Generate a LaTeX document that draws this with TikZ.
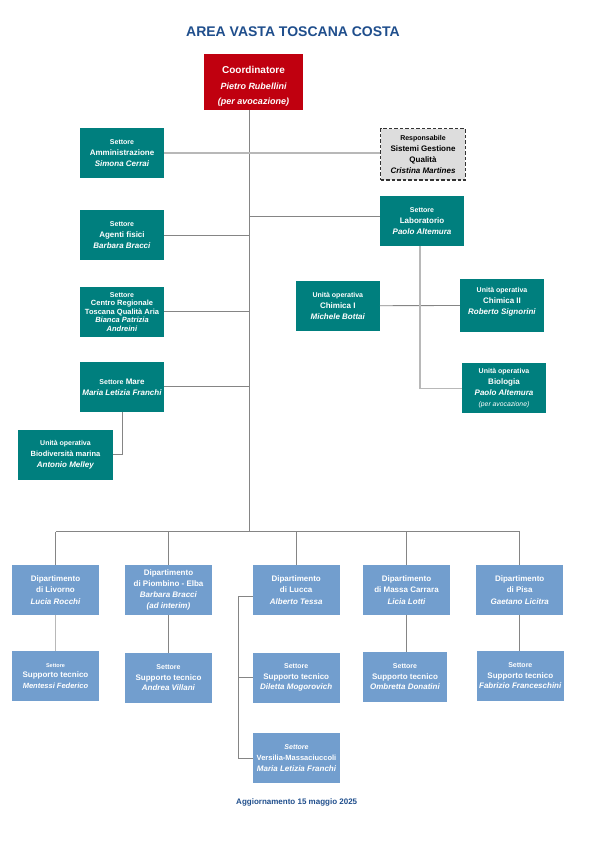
\documentclass[tikz,border=0pt]{standalone}
\usepackage{fontspec}
\setmainfont{Liberation Sans}
\definecolor{verde}{HTML}{007F7E}
\definecolor{azzurro}{HTML}{729ECE}
\definecolor{rosso}{HTML}{C0000F}
\definecolor{blu}{HTML}{1F4E8C}
\definecolor{grigio}{HTML}{DDDDDD}
\definecolor{bordo}{HTML}{333333}
\definecolor{linea}{HTML}{858585}
\definecolor{chiara}{HTML}{B8B8B8}
\newcommand{\piccolo}{\fontsize{7}{11}\selectfont}
\begin{document}
\begin{tikzpicture}[x=1pt,y=-1pt,
  box/.style={inner sep=0pt, minimum width=84pt, minimum height=50pt, align=center, text=white, font=\bfseries\fontsize{8}{11}\selectfont},
  sett/.style={box, fill=verde},
  dip/.style={box, fill=azzurro, minimum width=87pt, minimum height=49.7pt, font=\bfseries\fontsize{8}{11.3}\selectfont},
  conn/.style={draw=linea, line width=0.9pt},
  connchiaro/.style={draw=chiara, line width=1.3pt}]
\useasboundingbox (0,0) rectangle (595,842);
\node[text=blu, font=\bfseries\fontsize{14}{16}\selectfont] (t) at (293,32) {AREA VASTA TOSCANA COSTA};
\node[box, fill=rosso, minimum width=99pt, minimum height=56pt, text height=48pt, text depth=2pt, font=\bfseries\itshape\fontsize{9}{15.8}\selectfont] (1) at (253.5,82) {{\upshape\fontsize{10}{15.8}\selectfont Coordinatore}\\Pietro Rubellini\\(per avocazione)};
\node[sett] (2) at (122,153) {{\piccolo Settore}\\Amministrazione\\\textit{Simona Cerrai}};
\node[box, fill=grigio, draw=bordo, dash pattern=on 3.5pt off 2pt, line width=1.2pt, text=black, minimum width=84.6pt, minimum height=51.3pt] (3) at (423,154.3) {{\piccolo Responsabile}\\Sistemi Gestione\\Qualità\\\textit{Cristina Martines}};
\node[sett] (4) at (122,235) {{\piccolo Settore}\\Agenti fisici\\\textit{Barbara Bracci}};
\node[sett] (5) at (422,221) {{\piccolo Settore}\\Laboratorio\\\textit{Paolo Altemura}};
\node[sett, font=\bfseries\fontsize{7.5}{8.5}\selectfont] (6) at (122,311.9) {{\piccolo Settore}\\Centro Regionale\\Toscana Qualità Aria\\\textit{Bianca Patrizia}\\\textit{Andreini}};
\node[sett, minimum width=83.7pt] (7) at (337.8,305.9) {{\piccolo Unità operativa}\\Chimica I\\\textit{Michele Bottai}};
\node[sett, minimum height=52.7pt, text depth=9.5pt] (8) at (502,305.3) {{\piccolo Unità operativa}\\Chimica II\\\textit{Roberto Signorini}};
\node[sett] (9) at (122,386.9) {{\piccolo Settore} Mare\\\textit{Maria Letizia Franchi}};
\node[sett] (10) at (504,388.2) {{\piccolo Unità operativa}\\Biologia\\\textit{Paolo Altemura}\\{\mdseries\itshape\fontsize{6.8}{11}\selectfont (per avocazione)}};
\node[sett, minimum width=95pt] (11) at (65.5,454.9) {{\piccolo Unità operativa}\\{\fontsize{7.5}{11}\selectfont Biodiversità marina}\\\textit{Antonio Melley}};
\node[dip] (12) at (55.5,589.9) {Dipartimento\\di Livorno\\\textit{Lucia Rocchi}};
\node[dip] (13) at (168.5,589.9) {Dipartimento\\di Piombino - Elba\\\textit{Barbara Bracci}\\\textit{(ad interim)}};
\node[dip] (14) at (296.2,589.9) {Dipartimento\\di Lucca\\\textit{Alberto Tessa}};
\node[dip] (15) at (406.5,589.9) {Dipartimento\\di Massa Carrara\\\textit{Licia Lotti}};
\node[dip] (16) at (519.7,589.9) {Dipartimento\\di Pisa\\\textit{Gaetano Licitra}};
\node[dip, font=\bfseries\fontsize{8}{10.6}\selectfont] (17) at (55.5,675.9) {{\fontsize{5.5}{10.6}\selectfont Settore}\\Supporto tecnico\\{\itshape\fontsize{7.5}{10.6}\selectfont Mentessi Federico}};
\node[dip, font=\bfseries\fontsize{8}{10.6}\selectfont] (18) at (168.5,677.9) {{\piccolo Settore}\\Supporto tecnico\\\textit{Andrea Villani}};
\node[dip, font=\bfseries\fontsize{8}{10.6}\selectfont] (19) at (296.2,677.7) {{\piccolo Settore}\\Supporto tecnico\\\textit{Diletta Mogorovich}};
\node[dip, minimum width=84pt, font=\bfseries\fontsize{8}{10.6}\selectfont] (20) at (405,676.9) {{\piccolo Settore}\\Supporto tecnico\\\textit{Ombretta Donatini}};
\node[dip, font=\bfseries\fontsize{8}{10.6}\selectfont] (21) at (520.3,675.9) {{\piccolo Settore}\\Supporto tecnico\\\textit{Fabrizio Franceschini}};
\node[dip, minimum width=86.4pt, font=\bfseries\fontsize{7.5}{11}\selectfont] (22) at (296.5,758) {{\itshape\piccolo Settore}\\Versilia-Massaciuccoli\\{\itshape\fontsize{8}{11}\selectfont Maria Letizia Franchi}};
\node[text=blu, font=\bfseries\fontsize{8}{10}\selectfont] (f) at (296.7,802.7) {Aggiornamento 15 maggio 2025};
\coordinate (b) at (249.3,531.5);
\coordinate (c) at (238.7,596.3);
\path[conn] (1.south -| b) -- (b);
\path[connchiaro] (2) -- (2 -| 3.west);
\path[conn] (4) -- (4 -| b);
\path[conn] ([yshift=4.7pt]5.west) -- ([yshift=4.7pt]5.west -| b);
\path[conn] (6) -- (6 -| b);
\path[conn] (9) -- (9 -| b);
\path[conn] (7) -- (8);
\path[connchiaro] ([xshift=-2pt]5.south) |- (10.west);
\path[conn] (9.south) |- (11.east);
\path[conn] (12 |- b) -- (16 |- b);
\path[conn] (12) -- (12 |- b);
\path[conn] (13) -- (13 |- b);
\path[conn] (14) -- (14 |- b);
\path[conn] (15) -- (15 |- b);
\path[conn] (16) -- (16 |- b);
\path[connchiaro] (12) -- (17);
\path[conn] (13) -- (18);
\path[conn] (15.south) -- (15.south |- 20.north);
\path[conn] (16.south) -- (16.south |- 21.north);
\path[conn] (c -| 14.west) -- (c) |- (22.west);
\path[conn] (c |- 19) -- (19.west);
\end{tikzpicture}
\end{document}
